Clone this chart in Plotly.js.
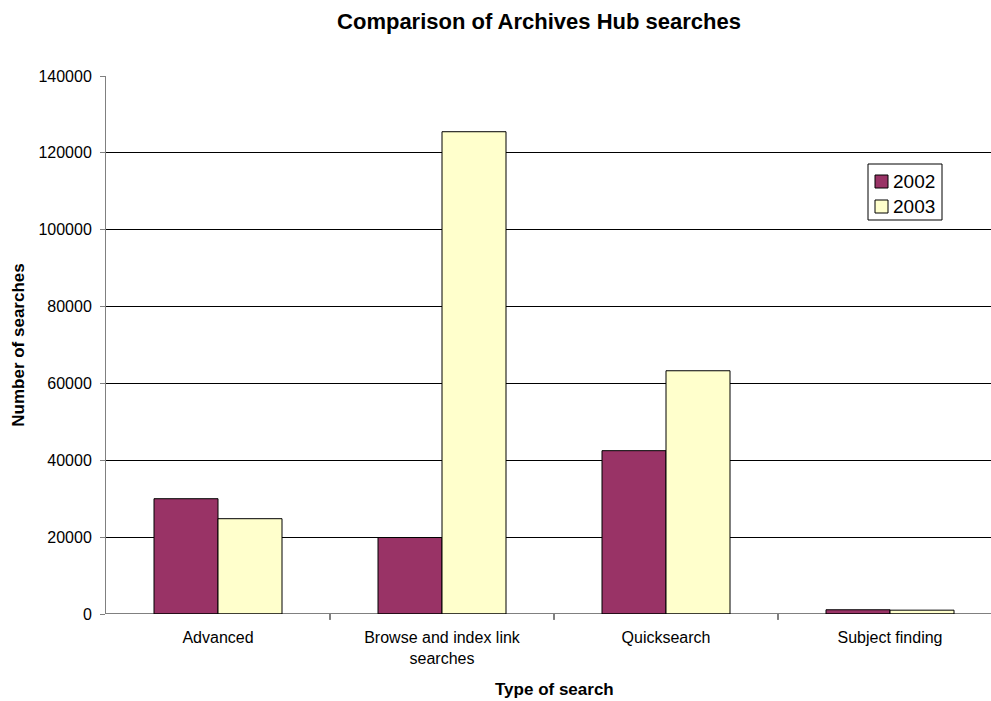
<!DOCTYPE html>
<html>
<head>
<meta charset="utf-8">
<script src="https://cdn.plot.ly/plotly-3.0.1.min.js"></script>
<style>html,body{margin:0;padding:0;background:#fff;}#chart{width:991px;height:701px;}</style>
</head>
<body>
<div id="chart"></div>
<script>
const categories = ["Advanced", "Browse and index link<br>searches", "Quicksearch", "Subject finding"];
const series2002 = [30000, 19900, 42500, 1100];
const series2003 = [24800, 125500, 63300, 1000];
const seriesNames = ["2002", "2003"];
const seriesColors = ["#993366", "#FFFFCC"];
const yTicks = [0, 20000, 40000, 60000, 80000, 100000, 120000, 140000];

const FONT = "Arial, 'Liberation Sans', sans-serif";

// pixel helpers for plot area (l=106, plot width 885, top 76, height 538)
const PX = px => (px - 106) / 885;
const PY = py => (614 - py) / 538;

const traces = [series2002, series2003].map((vals, i) => ({
  type: "bar", name: seriesNames[i], x: [0,1,2,3], y: vals,
  marker: {color: seriesColors[i], line: {color: "#000", width: 1}},
  showlegend: false
}));

const legendShapes = [
  {type: "rect", xref: "paper", yref: "paper", x0: PX(868), x1: PX(942), y0: PY(164), y1: PY(220),
   line: {color: "#000", width: 1}, fillcolor: "#fff", layer: "above"}
].concat(seriesNames.map((n, i) => ({
  type: "rect", xref: "paper", yref: "paper",
  x0: PX(875), x1: PX(888), y0: PY(175 + i * 25), y1: PY(188 + i * 25),
  line: {color: "#000", width: 1}, fillcolor: seriesColors[i], layer: "above"
})));

const legendAnns = seriesNames.map((n, i) => ({
  xref: "paper", yref: "paper", x: PX(891), y: PY(181.5 + i * 25),
  xanchor: "left", yanchor: "middle", showarrow: false,
  text: n, font: {size: 19, family: FONT, color: "#000"}
}));

const layout = {
  width: 991, height: 701,
  margin: {l: 106, r: 0, t: 76, b: 87, autoexpand: false},
  paper_bgcolor: "#fff", plot_bgcolor: "#fff",
  font: {family: FONT, color: "#000", size: 15},
  barmode: "group", bargap: 0.4286, bargroupgap: 0,
  showlegend: false,
  title: {text: "<b>Comparison of Archives Hub searches</b>", font: {size: 22, family: FONT},
          x: 539/991, xref: "container", xanchor: "center", y: 1 - 21/701, yref: "container", yanchor: "middle"},
  xaxis: {
    type: "linear",
    range: [-0.5, -0.5 + 885/224],
    tickmode: "array", tickvals: [0,1,2,3], ticktext: categories,
    ticks: "", showgrid: false, zeroline: false,
    showline: false, automargin: false,
    tickfont: {size: 16}, ticklabelstandoff: 12
  },
  yaxis: {
    range: [0, 140000], automargin: false,
    tickmode: "array", tickvals: yTicks, ticktext: yTicks.map(String),
    ticks: "outside", ticklen: 5, tickcolor: "#808080", tickwidth: 1,
    showline: true, linecolor: "#808080", linewidth: 1,
    showgrid: true, gridcolor: "#000", gridwidth: 1,
    zeroline: false,
    tickfont: {size: 16}, ticklabelstandoff: 5,
    title: {text: "<b>Number of searches</b>", font: {size: 17}, standoff: 9}
  },
  annotations: [
    {xref: "x", yref: "paper", x: 1.5, y: PY(689), xanchor: "center", yanchor: "middle",
     showarrow: false, text: "<b>Type of search</b>", font: {size: 17, family: FONT, color: "#000"}}
  ].concat(legendAnns),
  shapes: [
    {type: "line", xref: "paper", yref: "y", x0: 0, x1: 1, y0: 0, y1: 0, line: {color: "#000", width: 1}},
    ...[0.5, 1.5, 2.5].map(v => ({type: "line", xref: "x", yref: "paper", x0: v, x1: v, y0: 0, y1: -0.011, line: {color: "#000", width: 1}}))
  ].concat(legendShapes)
};

Plotly.newPlot("chart", traces, layout, {displayModeBar: false, staticPlot: true});
</script>
</body>
</html>
